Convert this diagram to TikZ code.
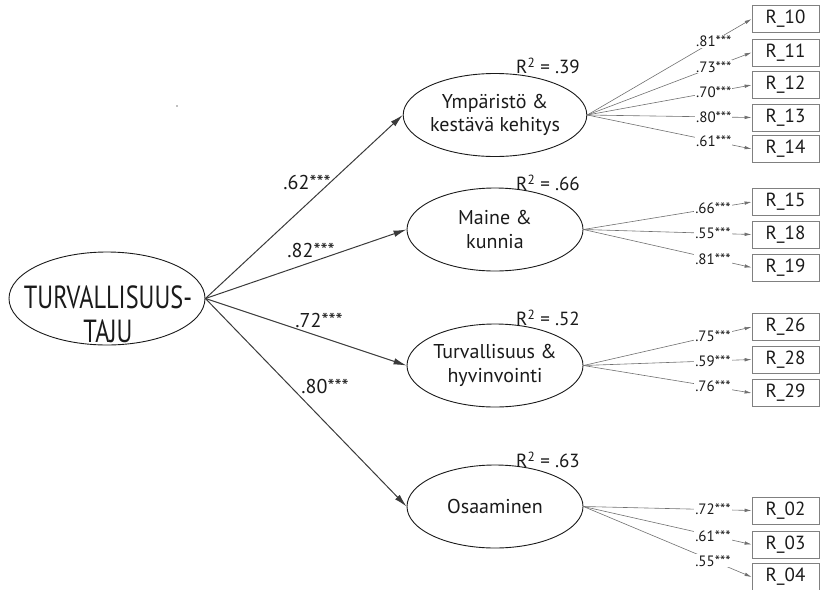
\documentclass[tikz,border=0pt]{standalone}
\usepackage{fontspec}
\usepackage{graphicx}
\setmainfont{PT Sans}
\usetikzlibrary{arrows.meta,shapes.geometric}
\definecolor{ink}{HTML}{1A1A1A}
\definecolor{arrowgray}{HTML}{3A3A3A}
\definecolor{linegray}{HTML}{707070}
\definecolor{boxgray}{HTML}{808080}
\begin{document}
\begin{tikzpicture}[x=1pt,y=-1pt,
  latent/.style={draw=ink, line width=0.9pt, ellipse, minimum width=176pt,
    minimum height=83pt, inner sep=0pt, align=center, text=ink,
    font=\fontsize{20}{23.5}\selectfont},
  item/.style={draw=boxgray, line width=0.8pt, minimum width=67pt,
    minimum height=27pt, inner sep=0pt, text=ink, font=\fontsize{19}{22}\selectfont},
  pathto/.style={draw=arrowgray, line width=1pt, -{Latex[length=13pt,width=6.5pt]}},
  load/.style={draw=linegray, line width=0.6pt, -{Latex[length=7pt,width=3.5pt]}},
  loadlab/.style={fill=white, inner sep=1pt, pos=0.77, text=ink,
    font=\fontsize{15}{17}\selectfont},
  coef/.style={inner sep=0pt, text=ink, font=\fontsize{20}{23}\selectfont},
  rsq/.style={inner sep=0pt, text=ink, font=\fontsize{19}{22}\selectfont}
]
\useasboundingbox (0,0) rectangle (821,589);

% exogenous factor
\node[draw=ink, line width=0.9pt, ellipse, minimum width=196pt, minimum height=93pt,
  inner sep=0pt] (main) at (107,298.5) {};
\node[align=center, inner sep=0pt, text=ink, font=\fontsize{32}{34}\selectfont]
  (maintext) at (108,314) {\scalebox{0.76}[1]{TURVALLISUUS-}\\\scalebox{0.76}[1]{TAJU}};

% endogenous factors
\node[latent] (e1) at (495,115)   {Ympäristö \&\\kestävä kehitys};
\node[latent] (e2) at (495,229.5) {Maine \&\\kunnia};
\node[latent] (e3) at (495,365.5) {Turvallisuus \&\\hyvinvointi};
\node[latent] (e4) at (495,506.5) {Osaaminen};

% explained variance
\node[rsq] (rsq1) at (548,66)  {R\textsuperscript{2} = .39};
\node[rsq] (rsq2) at (548,183) {R\textsuperscript{2} = .66};
\node[rsq] (rsq3) at (548,318) {R\textsuperscript{2} = .52};
\node[rsq] (rsq4) at (548,460) {R\textsuperscript{2} = .63};

% structural paths
\draw[pathto] (main.east) -- (e1.west);
\draw[pathto] (main.east) -- (e2.west);
\draw[pathto] (main.east) -- (e3.west);
\draw[pathto] (main.east) -- (e4.west);
\node[coef] (c1) at (307,182) {.62***};
\node[coef] (c2) at (311,250) {.82***};
\node[coef] (c3) at (319,320) {.72***};
\node[coef] (c4) at (325,386) {.80***};

% indicators
\node[item] (r10) at (785.5,19)    {R\_10};
\node[item] (r11) at (785.5,52.5)  {R\_11};
\node[item] (r12) at (785.5,85)    {R\_12};
\node[item] (r13) at (785.5,117.5) {R\_13};
\node[item] (r14) at (785.5,149)   {R\_14};

\node[item] (r15) at (785.5,202)   {R\_15};
\node[item] (r18) at (785.5,234.5) {R\_18};
\node[item] (r19) at (785.5,267.5) {R\_19};

\node[item] (r26) at (785.5,327)   {R\_26};
\node[item] (r28) at (785.5,359.5) {R\_28};
\node[item] (r29) at (785.5,393)   {R\_29};

\node[item] (r02) at (785.5,510.5) {R\_02};
\node[item] (r03) at (785.5,544.5) {R\_03};
\node[item] (r04) at (785.5,577)   {R\_04};

% factor loadings
\draw[load] (e1.east) -- node[loadlab] (l10) {.81***} (r10.west);
\draw[load] (e1.east) -- node[loadlab] (l11) {.73***} (r11.west);
\draw[load] (e1.east) -- node[loadlab] (l12) {.70***} (r12.west);
\draw[load] (e1.east) -- node[loadlab] (l13) {.80***} (r13.west);
\draw[load] (e1.east) -- node[loadlab] (l14) {.61***} (r14.west);

\draw[load] (e2.east) -- node[loadlab] (l15) {.66***} (r15.west);
\draw[load] (e2.east) -- node[loadlab] (l18) {.55***} (r18.west);
\draw[load] (e2.east) -- node[loadlab] (l19) {.81***} (r19.west);

\draw[load] (e3.east) -- node[loadlab] (l26) {.75***} (r26.west);
\draw[load] (e3.east) -- node[loadlab] (l28) {.59***} (r28.west);
\draw[load] (e3.east) -- node[loadlab] (l29) {.76***} (r29.west);

\draw[load] (e4.east) -- node[loadlab] (l02) {.72***} (r02.west);
\draw[load] (e4.east) -- node[loadlab] (l03) {.61***} (r03.west);
\draw[load] (e4.east) -- node[loadlab] (l04) {.55***} (r04.west);

% stray speck
\fill[gray] (177,106) circle (0.8);
\end{tikzpicture}
\end{document}
